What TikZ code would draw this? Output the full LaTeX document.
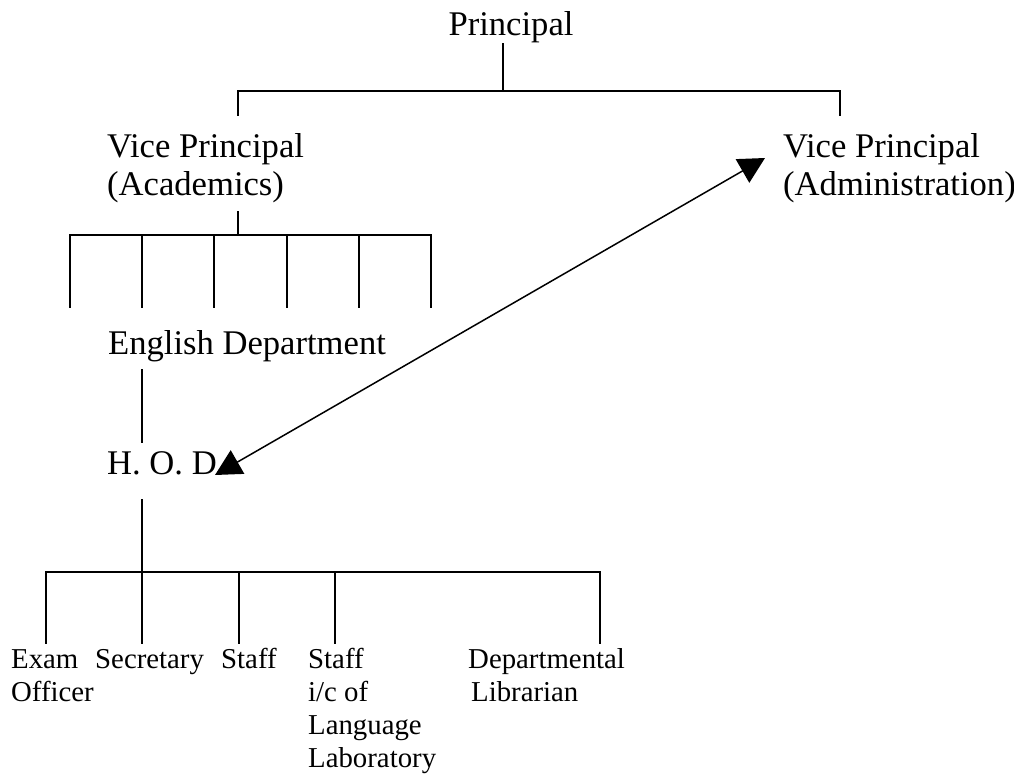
\documentclass[tikz,border=0pt]{standalone}
\usepackage{fontspec}
\setmainfont{Liberation Serif}
\usetikzlibrary{arrows.meta}
\newcommand{\bigf}{\fontsize{34.6}{38}\selectfont}
\newcommand{\smallf}{\fontsize{28.8}{33}\selectfont}
\newcommand{\lines}[1]{\begin{tabular}[t]{@{}l@{}}#1\end{tabular}}
\begin{document}
\begin{tikzpicture}[x=1pt,y=-1pt,
  big/.style={font=\bigf, inner sep=0pt, anchor=base west},
  small/.style={font=\smallf, inner sep=0pt, anchor=base west},
  tree/.style={line width=2pt, line cap=rect},
  link/.style={line width=1.5pt, {Triangle[length=26pt,width=27pt]}-{Triangle[length=26pt,width=27pt]}}]
\useasboundingbox (0,0) rectangle (1014,776);
% nodes
\node[big, anchor=base] (P) at (511,36) {Principal};
\node[big] (VPA) at (107,157) {\lines{Vice Principal\\(Academics)}};
\node[big] (VPD) at (783,157) {\lines{Vice Principal\\(Administration)}};
\node[big] (ED) at (108,354) {English Department};
\node[big] (HOD) at (107,474) {H. O. D};
\node[small] (EO) at (11,668) {\lines{Exam\\Officer}};
\node[small] (SE) at (95,668) {Secretary};
\node[small] (ST) at (221,668) {Staff};
\node[small] (SL) at (308,668) {\lines{Staff\\i/c of\\Language\\Laboratory}};
\node[small] (DL) at (468,668) {\lines{Departmental\\\hspace{3pt}Librarian}};
% junction coordinates
\coordinate (p0) at (503,44);
\coordinate (p1) at (503,91);
\coordinate (pl) at (238,91);
\coordinate (pr) at (840,91);
\coordinate (plt) at (238,115);
\coordinate (prt) at (840,115);
\coordinate (a0) at (238,212);
\coordinate (a1) at (238,235);
\coordinate (e0) at (142,370);
\coordinate (e1) at (142,442);
\coordinate (h0) at (142,500);
\coordinate (h1) at (142,572);
\coordinate (hl) at (46,572);
\coordinate (hr) at (600,572);
\coordinate (arrA) at (215,475);
\coordinate (arrB) at (765,158);
% Principal level
\draw[tree] (p0) -- (p1);
\draw[tree] (plt) -- (pl) -- (pr) -- (prt);
% Academics level
\draw[tree] (a0) -- (a1);
\draw[tree] (70,235) -- (431,235);
\foreach \x in {70,142,214,287,359,431}
  \draw[tree] (\x,235) -- (\x,307);
% English department to HOD
\draw[tree] (e0) -- (e1);
% HOD level
\draw[tree] (h0) -- (h1);
\draw[tree] (hl) -- (hr);
\foreach \x in {46,142,239,335,600}
  \draw[tree] (\x,572) -- (\x,643);
% double arrow
\draw[link] (arrA) -- (arrB);
\end{tikzpicture}
\end{document}
